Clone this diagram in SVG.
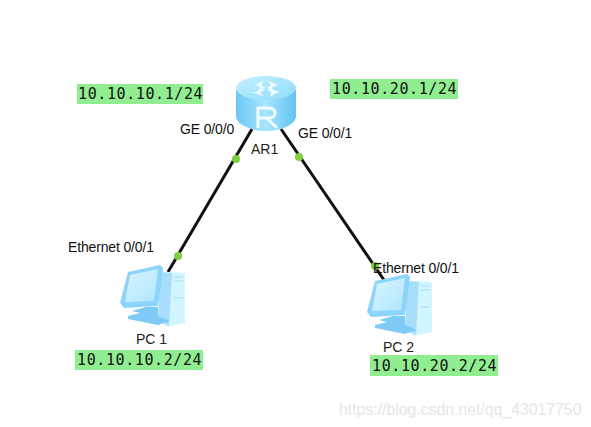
<svg xmlns="http://www.w3.org/2000/svg" xmlns:xlink="http://www.w3.org/1999/xlink" width="591" height="427" viewBox="0 0 591 427">
<style>
.lb{font-family:"Liberation Sans",Arial,sans-serif;font-size:14px;fill:#111;letter-spacing:-.15px}
.nm{font-family:"Liberation Sans",Arial,sans-serif;font-size:14px;fill:#222}
.ip{font-family:"DejaVu Sans Mono","Liberation Mono",monospace;font-size:15px;fill:#111;letter-spacing:.6px}
.bg{fill:#90ee90}
.ln{stroke:#111;stroke-width:3;fill:none}
.dot{fill:#7ed03a}
</style>
<defs>
<linearGradient id="rb" x1="0" x2="1" y1="0" y2="0"><stop offset="0" stop-color="#6cc8f5"/><stop offset=".5" stop-color="#a6e6ff"/><stop offset="1" stop-color="#62c2f2"/></linearGradient>
<linearGradient id="rt" x1="0" x2="1" y1="0" y2="1"><stop offset="0" stop-color="#c4f0ff"/><stop offset="1" stop-color="#8fdcfb"/></linearGradient>
<linearGradient id="sc" x1="0" x2="1" y1="0" y2="1"><stop offset="0" stop-color="#d8f5ff"/><stop offset="1" stop-color="#b0e6ff"/></linearGradient>
<g id="pc">
<path d="M170 272L185 273V323L166 327L159 320L160 272Z" fill="#d2f6ff"/>
<path d="M160 272L172 273L169 326L158 320Z" fill="#a8defc"/>
<path d="M174 277H183M174 281H183M174 298H183" stroke="#a0dcf5" stroke-width="1" fill="none"/>
<path d="M128 272L160 265L163 268L158 306L124 308L120 303Z" fill="#8cd4fb"/>
<path d="M130 275L158 269L154 301L125 302Z" fill="url(#sc)"/>
<path d="M132 311L146 307H158L158 316L170 321L158 325L128 319V316L140 313Z" fill="#7fcaf6"/>
</g>
</defs>
<rect width="591" height="427" fill="#fff"/>
<g id="connectors">
<path class="ln" d="M252 129L168 272"/>
<path class="ln" d="M281 129L384 280"/>
<circle class="dot" cx="236" cy="159" r="4"/>
<circle class="dot" cx="299" cy="157" r="4"/>
<circle class="dot" cx="178" cy="256" r="4"/>
<circle class="dot" cx="375" cy="266" r="4"/>
</g>
<g id="router">
<path d="M236 90V116C236 124 250 131 266 131C282 131 296 124 296 116V90Z" fill="url(#rb)"/>
<ellipse cx="266" cy="88" rx="30" ry="12" fill="url(#rt)"/>
<path d="M254 85L264 81L261 85L266 88L262 89L258 86ZM278 85L268 81L271 85L267 88L270 89L275 86ZM252 92L263 96L260 92L265 90L261 88L256 92ZM280 91L270 97L271 92L267 90L271 88L276 91Z" fill="#eefbff"/>
<path d="M258 128V108H269C277 108 277 118 269 118H258M267 118L277 128" fill="none" stroke="#f2fcff" stroke-width="3"/>
<text class="nm" x="251" y="154">AR1</text>
</g>
<g id="pc1">
<use xlink:href="#pc" href="#pc"/>
<text class="nm" x="136" y="344">PC 1</text>
</g>
<g id="pc2">
<use xlink:href="#pc" href="#pc" x="247" y="9"/>
<text class="nm" x="383" y="352">PC 2</text>
</g>
<g id="labels">
<text class="lb" x="180" y="134">GE 0/0/0</text>
<text class="lb" x="298" y="138">GE 0/0/1</text>
<text class="lb" x="68" y="252">Ethernet 0/0/1</text>
<text class="lb" x="373" y="273">Ethernet 0/0/1</text>
<rect class="bg" x="77" y="84" width="126" height="20"/>
<text class="ip" x="78" y="99">10.10.10.1/24</text>
<rect class="bg" x="330" y="79" width="128" height="20"/>
<text class="ip" x="332" y="94">10.10.20.1/24</text>
<rect class="bg" x="75" y="350" width="128" height="20"/>
<text class="ip" x="77" y="365">10.10.10.2/24</text>
<rect class="bg" x="370" y="355" width="128" height="21"/>
<text class="ip" x="372" y="371">10.10.20.2/24</text>
<text x="339" y="415" font-family="Liberation Sans,Arial,sans-serif" font-size="15.8" fill="#e6e6e6">https://blog.csdn.net/qq_43017750</text>
</g>
</svg>
